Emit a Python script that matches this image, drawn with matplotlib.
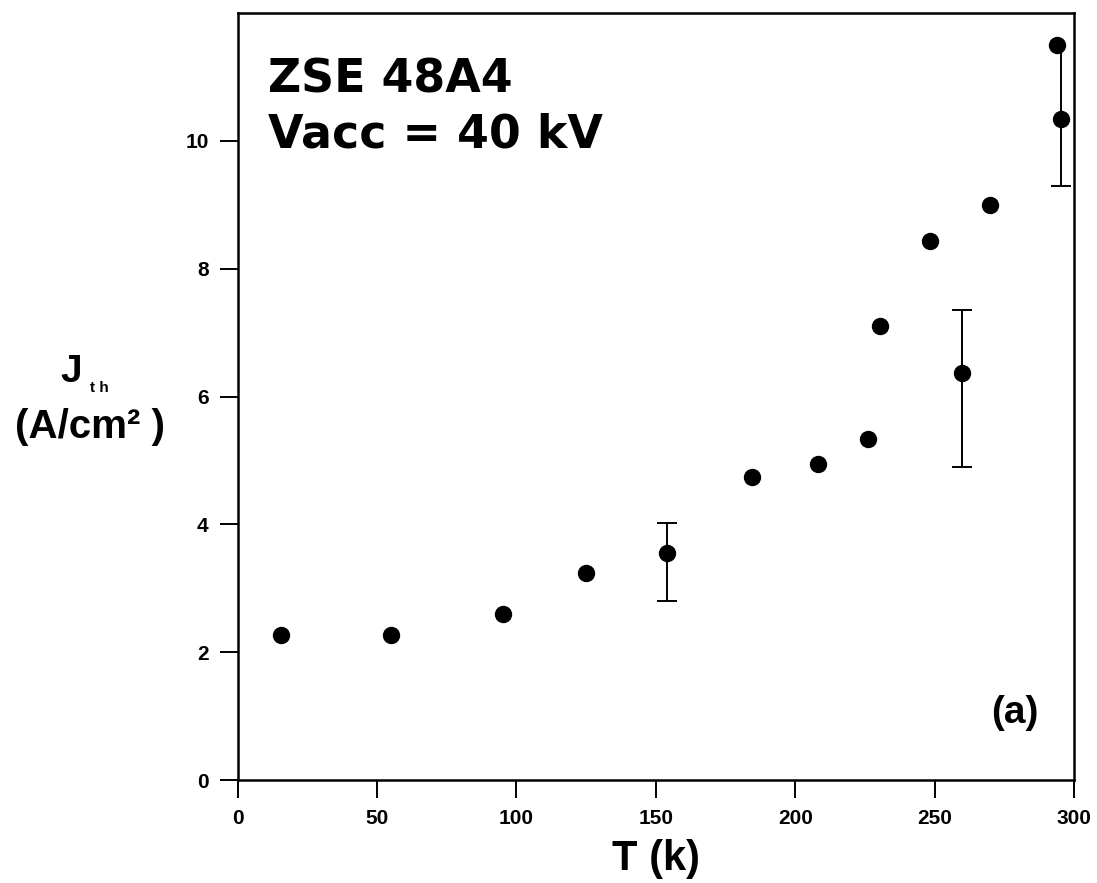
import numpy as np
import matplotlib
matplotlib.use("Agg")
import matplotlib.pyplot as plt

plt.rcParams['font.family'] = ['Liberation Sans', 'DejaVu Sans']
plt.rcParams['font.weight'] = 'bold'

# threshold current density vs temperature
T = [15.5, 55, 95, 125, 184.5, 208, 226, 230.5, 248.5, 270, 294]
J = [2.27, 2.27, 2.60, 3.24, 4.74, 4.94, 5.34, 7.10, 8.43, 8.99, 11.50]

# points carrying error bars: value, lower end, upper end
T_err = [154, 260, 295.5]
J_err = [3.55, 6.36, 10.34]
J_lo = [2.80, 4.90, 9.30]
J_hi = [4.02, 7.35, 11.50]

fig = plt.figure(figsize=(10.97, 8.83), dpi=100)
ax = fig.add_axes([0.2167, 0.1166, 0.7623, 0.8687])

ax.plot(T, J, 'o', color='black', markersize=11.5)

yerr = np.array([np.subtract(J_err, J_lo), np.subtract(J_hi, J_err)])
_, caps, _ = ax.errorbar(T_err, J_err, yerr=yerr, fmt='o', color='black',
                         markersize=11.5, ecolor='black', elinewidth=1.4,
                         capsize=7, capthick=1.4)

# the last bar's upper end sits under the point above it: no cap there
upper = caps[1]
ux, uy = upper.get_data()
upper.set_data(ux[:2], uy[:2])

ax.set_xlim(0, 300)
ax.set_ylim(0, 12)
ax.set_xticks([0, 50, 100, 150, 200, 250, 300])
ax.set_yticks([0, 2, 4, 6, 8, 10])

for s in ax.spines.values():
    s.set_linewidth(1.8)
ax.tick_params(direction='out', length=13, width=1.4, labelsize=15, pad=8)
for lab in ax.get_xticklabels() + ax.get_yticklabels():
    lab.set_fontweight('bold')

ax.set_xlabel('T (k)', fontsize=30, fontweight='bold', labelpad=8)

fig.text(0.065, 0.567, 'J', fontsize=28, fontweight='bold', ha='center', va='baseline')
fig.text(0.091, 0.556, 't h', fontsize=11, fontweight='bold', ha='center', va='baseline')
fig.text(0.082, 0.504, '(A/cm² )', fontsize=29, fontweight='bold',
         ha='center', va='baseline')

ax.text(0.036, 0.896, 'ZSE 48A4', transform=ax.transAxes, fontsize=33,
        fontweight='bold', family='DejaVu Sans', ha='left', va='baseline')
ax.text(0.036, 0.824, 'Vacc = 40 kV', transform=ax.transAxes, fontsize=33,
        fontweight='bold', family='DejaVu Sans', ha='left', va='baseline')
ax.text(0.957, 0.074, '(a)', transform=ax.transAxes, fontsize=28,
        fontweight='bold', ha='right', va='baseline')

fig.savefig('out.png', dpi=100)
